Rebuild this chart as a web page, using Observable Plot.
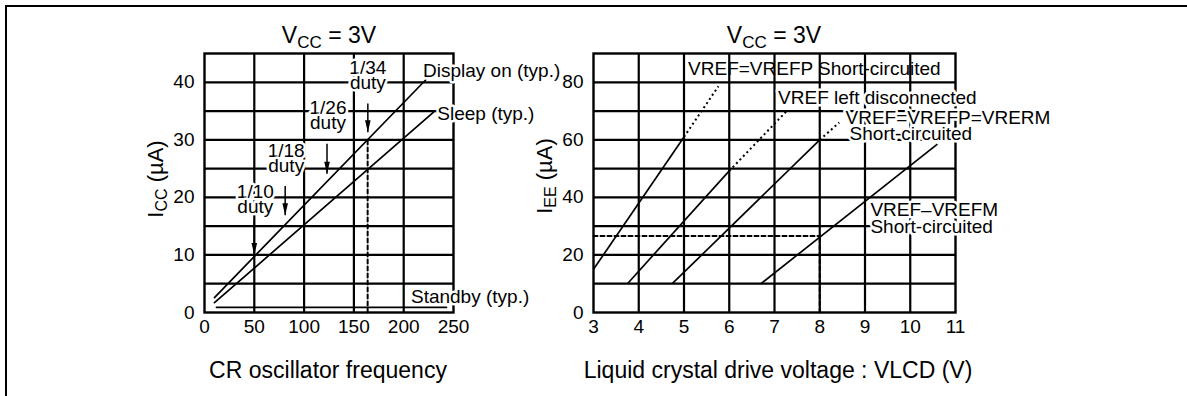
<!DOCTYPE html>
<html><head><meta charset="utf-8">
<script src="https://cdn.jsdelivr.net/npm/d3@7"></script>
<script src="https://cdn.jsdelivr.net/npm/@observablehq/plot@0.6"></script>
<style>
body{margin:0;background:#fff;}
#wrap{position:relative;width:1187px;height:396px;overflow:hidden;font-family:"Liberation Sans",Arial,sans-serif;color:#000;background:#fff;}
#wrap svg{position:absolute;top:0;}
.abs{position:absolute;white-space:nowrap;line-height:1;}
.sub{font-size:17px;vertical-align:-5px;}
.border{position:absolute;left:5px;top:5px;width:1300px;height:500px;border-top:2px solid #000;border-left:2px solid #000;pointer-events:none;}
</style></head><body><div id="wrap"></div>
<script>
// ---------- left chart data ----------
const freqTicks = [0, 50, 100, 150, 200, 250];
const iccTicks = [0, 10, 20, 30, 40];
const freqGrid = [50, 100, 150, 200];
const iccGrid = [5, 10, 15, 20, 25, 30, 35, 40];
const displayOnFreq = [10, 222];
const displayOnIcc = [2.6, 40.4];
const sleepFreq = [10, 230];
const sleepIcc = [1.7, 34.8];
const standbyFreq = [12, 243];
const standbyIcc = [0.9, 0.9];
const markerFreq = [163.8, 163.8];
const markerIcc = [0, 30.2];
const dutyNames = ["1/10\nduty", "1/18\nduty", "1/26\nduty", "1/34\nduty"];
const dutyFreq = [50, 81, 123, 164];
const dutyLabelFreq = [51, 82, 124, 164];
const dutyLabelIcc = [19.5, 26.5, 34, 41];
const dutyArrowFrom = [16, 22, 29.3, 36.3];
const dutyArrowTo = [10, 16.9, 24.1, 31.3];
const leftLabels = ["Display on (typ.)", "Sleep (typ.)", "Standby (typ.)"];
const leftLabelFreq = [219.4, 233.7, 207.3];
const leftLabelIcc = [42, 34.5, 2.7];

// ---------- right chart data ----------
const vlcdTicks = [3, 4, 5, 6, 7, 8, 9, 10, 11];
const ieeTicks = [0, 20, 40, 60, 80];
const vlcdGrid = [4, 5, 6, 7, 8, 9, 10];
const ieeGrid = [10, 20, 30, 40, 50, 60, 70, 80];
const solidV0 = [3, 3.75, 4.74, 6.7];
const solidI0 = [15, 10, 10, 10];
const solidV1 = [5, 6.0, 8.0, 10.6];
const solidI1 = [61, 49.2, 60, 58.5];
const dottedV1 = [5.76, 7.27, 8.43];
const dottedI1 = [78.6, 70, 66];
const guideV = [3, 8];
const guideI = [26.6, 26.6];
const guideVx = [8, 8];
const guideIy = [0, 26.6];
const rightLabels = ["VREF=VREFP Short-circuited", "VREF left disconnected", "VREF=VREFP=VRERM", "Short-circuited", "VREF\u2013VREFM", "Short-circuited"];
const rightLabelV = [5.09, 7.08, 8.57, 8.66, 9.12, 9.12];
const rightLabelI = [84.5, 74.7, 67.6, 62.2, 35.5, 29.8];
const rightLabelHalo = [false, true, true, true, true, true];

const FONT = "'Liberation Sans', Arial, sans-serif";
const arrowHead = {draw(ctx) { ctx.moveTo(0, 0); ctx.lineTo(-2.8, -12); ctx.lineTo(2.8, -12); ctx.closePath(); }};
const pts = (xs, ys) => xs.map((x, i) => ({x, y: ys[i]}));

const left = Plot.plot({
  width: 560, height: 396,
  marginLeft: 204, marginRight: 107, marginTop: 53, marginBottom: 84,
  style: {fontFamily: FONT, fontSize: "19px", color: "black", background: "white"},
  x: {domain: [0, 250], ticks: freqTicks, tickSize: 0, tickPadding: 7, label: null},
  y: {domain: [0, 45], ticks: iccTicks, tickSize: 0, tickPadding: 10, label: null},
  marks: [
    Plot.ruleX(freqGrid, {stroke: "black", strokeWidth: 2.2}),
    Plot.ruleY(iccGrid, {stroke: "black", strokeWidth: 2.2}),
    Plot.frame({stroke: "black", strokeWidth: 2.4}),
    Plot.line(pts(markerFreq, markerIcc), {x: "x", y: "y", stroke: "black", strokeWidth: 2, strokeDasharray: "4,3"}),
    Plot.line(pts(displayOnFreq, displayOnIcc), {x: "x", y: "y", stroke: "black", strokeWidth: 1.7}),
    Plot.line(pts(sleepFreq, sleepIcc), {x: "x", y: "y", stroke: "black", strokeWidth: 1.7}),
    Plot.line(pts(standbyFreq, standbyIcc), {x: "x", y: "y", stroke: "black", strokeWidth: 1.7}),
    Plot.link(d3.range(dutyFreq.length), {x1: i => dutyFreq[i], x2: i => dutyFreq[i], y1: i => dutyArrowFrom[i], y2: i => dutyArrowTo[i], stroke: "black", strokeWidth: 1.5}),
    Plot.dot(d3.range(dutyFreq.length), {x: i => dutyFreq[i], y: i => dutyArrowTo[i], symbol: arrowHead, fill: "black", stroke: null}),
    Plot.text(d3.range(dutyNames.length), {x: i => dutyLabelFreq[i], y: i => dutyLabelIcc[i], text: i => dutyNames[i], textAnchor: "middle", lineAnchor: "middle", lineHeight: 0.8, fontSize: 19, fill: "black", stroke: "white", strokeWidth: 5, paintOrder: "stroke"}),
    Plot.text(d3.range(leftLabels.length), {x: i => leftLabelFreq[i], y: i => leftLabelIcc[i], text: i => leftLabels[i], textAnchor: "start", lineAnchor: "middle", fontSize: 19, fill: "black", stroke: "white", strokeWidth: 5, paintOrder: "stroke"})
  ]
});

const right = Plot.plot({
  width: 627, height: 396,
  marginLeft: 33, marginRight: 232, marginTop: 53, marginBottom: 84,
  style: {fontFamily: FONT, fontSize: "19px", color: "black", background: "white"},
  x: {domain: [3, 11], ticks: vlcdTicks, tickSize: 0, tickPadding: 7, label: null},
  y: {domain: [0, 90], ticks: ieeTicks, tickSize: 0, tickPadding: 10, label: null},
  marks: [
    Plot.ruleX(vlcdGrid, {stroke: "black", strokeWidth: 2.2}),
    Plot.ruleY(ieeGrid, {stroke: "black", strokeWidth: 2.2}),
    Plot.frame({stroke: "black", strokeWidth: 2.4}),
    Plot.line(pts(guideV, guideI), {x: "x", y: "y", stroke: "black", strokeWidth: 2, strokeDasharray: "4,3"}),
    Plot.line(pts(guideVx, guideIy), {x: "x", y: "y", stroke: "black", strokeWidth: 2, strokeDasharray: "4,3"}),
    Plot.link(d3.range(solidV0.length), {x1: i => solidV0[i], y1: i => solidI0[i], x2: i => solidV1[i], y2: i => solidI1[i], stroke: "black", strokeWidth: 1.7}),
    Plot.link(d3.range(dottedV1.length), {x1: i => solidV1[i], y1: i => solidI1[i], x2: i => dottedV1[i], y2: i => dottedI1[i], stroke: "black", strokeWidth: 2, strokeDasharray: "2,3"}),
    Plot.text(d3.range(rightLabels.length).filter(i => !rightLabelHalo[i]), {x: i => rightLabelV[i], y: i => rightLabelI[i], text: i => rightLabels[i], textAnchor: "start", lineAnchor: "middle", fontSize: 19, fill: "black"}),
    Plot.text(d3.range(rightLabels.length).filter(i => rightLabelHalo[i]), {x: i => rightLabelV[i], y: i => rightLabelI[i], text: i => rightLabels[i], textAnchor: "start", lineAnchor: "middle", fontSize: 19, fill: "black", stroke: "white", strokeWidth: 5, paintOrder: "stroke"})
  ]
});

const wrap = document.getElementById("wrap");
left.style.left = "0px";
right.style.left = "560px";
wrap.appendChild(left);
wrap.appendChild(right);

function addText(html, x, y, size, extra) {
  const d = document.createElement("div");
  d.className = "abs";
  d.innerHTML = html;
  d.style.left = x + "px";
  d.style.top = y + "px";
  d.style.fontSize = size + "px";
  d.style.transform = extra || "translateX(-50%)";
  wrap.appendChild(d);
  return d;
}
// titles
addText('V<span class="sub">CC</span> = 3V', 329, 24, 23);
addText('V<span class="sub">CC</span> = 3V', 774, 24, 23);
// x axis titles
addText('CR oscillator frequency', 328, 358.8, 23);
addText('Liquid crystal drive voltage : VLCD (V)', 778, 358.8, 23);
// y axis titles
addText('I<span class="sub" style="font-size:16px;vertical-align:-4px">CC</span> (\u00b5A)', 157, 179, 22, "translate(-50%,-50%) rotate(-90deg)");
addText('I<span class="sub" style="font-size:16px;vertical-align:-4px">EE</span> (\u00b5A)', 546, 176, 22, "translate(-50%,-50%) rotate(-90deg)");

const b = document.createElement("div");
b.className = "border";
wrap.appendChild(b);
</script></body></html>
